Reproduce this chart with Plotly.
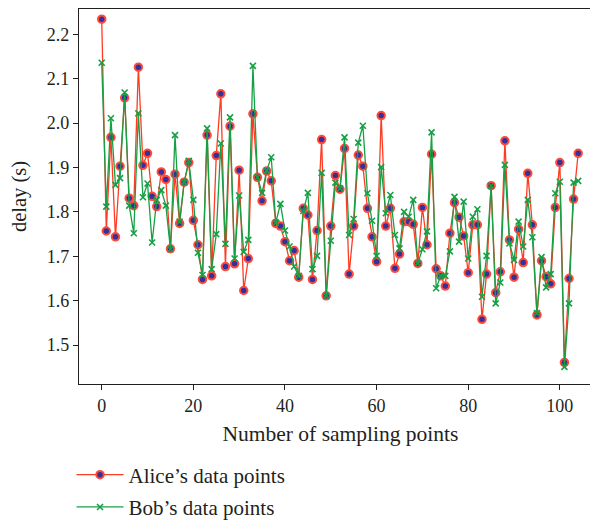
import plotly.graph_objects as go

sample_index = list(range(105))

alice_delay = [
    2.234, 1.757, 1.968, 1.744, 1.903, 2.057, 1.831, 1.814, 2.126, 1.905,
    1.932, 1.835, 1.812, 1.890, 1.873, 1.717, 1.885, 1.774, 1.867, 1.911,
    1.781, 1.726, 1.648, 1.973, 1.656, 1.927, 2.066, 1.677, 1.993, 1.683,
    1.894, 1.623, 1.695, 2.021, 1.878, 1.825, 1.892, 1.870, 1.774, 1.768,
    1.733, 1.690, 1.713, 1.653, 1.808, 1.793, 1.648, 1.758, 1.963, 1.611,
    1.768, 1.882, 1.851, 1.943, 1.660, 1.768, 1.928, 1.903, 1.808, 1.744,
    1.688, 2.017, 1.768, 1.808, 1.673, 1.705, 1.778, 1.778, 1.772, 1.684,
    1.810, 1.726, 1.930, 1.672, 1.656, 1.633, 1.752, 1.821, 1.788, 1.746,
    1.663, 1.771, 1.771, 1.558, 1.660, 1.859, 1.618, 1.665, 1.960, 1.737,
    1.653, 1.761, 1.686, 1.887, 1.771, 1.568, 1.690, 1.654, 1.638, 1.810,
    1.911, 1.461, 1.650, 1.829, 1.932,
]

bob_delay = [
    2.136, 1.812, 2.011, 1.861, 1.876, 2.069, 1.814, 1.752, 2.022, 1.833,
    1.864, 1.731, 1.827, 1.849, 1.814, 1.716, 1.973, 1.778, 1.867, 1.915,
    1.827, 1.708, 1.658, 1.988, 1.671, 1.750, 1.954, 1.728, 2.013, 1.695,
    1.837, 1.710, 1.737, 2.129, 1.878, 1.843, 1.893, 1.923, 1.776, 1.818,
    1.758, 1.722, 1.677, 1.656, 1.802, 1.843, 1.671, 1.701, 1.888, 1.611,
    1.735, 1.866, 1.853, 1.968, 1.748, 1.784, 1.956, 1.994, 1.842, 1.780,
    1.701, 1.901, 1.797, 1.838, 1.748, 1.718, 1.800, 1.789, 1.827, 1.684,
    1.716, 1.756, 1.979, 1.628, 1.656, 1.656, 1.711, 1.834, 1.733, 1.823,
    1.695, 1.789, 1.806, 1.609, 1.701, 1.859, 1.594, 1.641, 1.906, 1.729,
    1.692, 1.778, 1.722, 1.827, 1.743, 1.572, 1.698, 1.630, 1.660, 1.842,
    1.868, 1.451, 1.594, 1.866, 1.870,
]

x_ticks = [0, 20, 40, 60, 80, 100]
y_ticks = [1.5, 1.6, 1.7, 1.8, 1.9, 2.0, 2.1, 2.2]

FONT = "Liberation Serif"
INK = "#231f20"

fig = go.Figure()
fig.add_trace(go.Scatter(
    x=sample_index, y=alice_delay, mode="lines+markers",
    name="Alice\u2019s data points", legendgroup="alice",
    line=dict(color="#ff3b22", width=1.3),
    marker=dict(symbol="circle", size=7.5, color="#35309a",
                line=dict(color="#ff4a3a", width=2)),
))
fig.add_trace(go.Scatter(
    x=sample_index, y=bob_delay, mode="lines+markers",
    name="Bob\u2019s data points", legendgroup="bob",
    line=dict(color="#16a045", width=1.3),
    marker=dict(symbol="x-thin", size=6, color="#16a045",
                line=dict(color="#16a045", width=1.6)),
))

fig.update_layout(
    width=598, height=520,
    margin=dict(l=71, r=4, t=1, b=144, autoexpand=False),
    paper_bgcolor="white", plot_bgcolor="white",
    font=dict(family=FONT, color=INK),
    showlegend=True,
    legend=dict(
        x=-0.0143, y=-0.188, xanchor="left", yanchor="top",
        font=dict(family=FONT, size=21, color=INK),
        bgcolor="rgba(0,0,0,0)", tracegroupgap=2, itemwidth=47,
    ),
)
fig.update_xaxes(
    automargin=False,
    range=[-4.96, 109.2], tickvals=x_ticks,
    ticks="outside", ticklen=5, tickwidth=1.2, tickcolor=INK,
    showline=True, linecolor=INK, linewidth=1.3, mirror=True,
    showgrid=False, zeroline=False,
    tickfont=dict(family=FONT, size=18, color=INK),
    title=dict(text="Number of sampling points", standoff=11,
               font=dict(family=FONT, size=21.5, color=INK)),
)
fig.update_yaxes(
    automargin=False,
    range=[1.4124, 2.257], tickvals=y_ticks, ticktext=[f"{v:.1f}" for v in y_ticks],
    ticks="outside", ticklen=5, tickwidth=1.2, tickcolor=INK,
    showline=True, linecolor=INK, linewidth=1.3, mirror=False,
    showgrid=False, zeroline=False,
    tickfont=dict(family=FONT, size=18, color=INK),
    title=dict(text="delay (s)", standoff=22,
               font=dict(family=FONT, size=20.5, color=INK)),
)

fig.write_html("out.html")
